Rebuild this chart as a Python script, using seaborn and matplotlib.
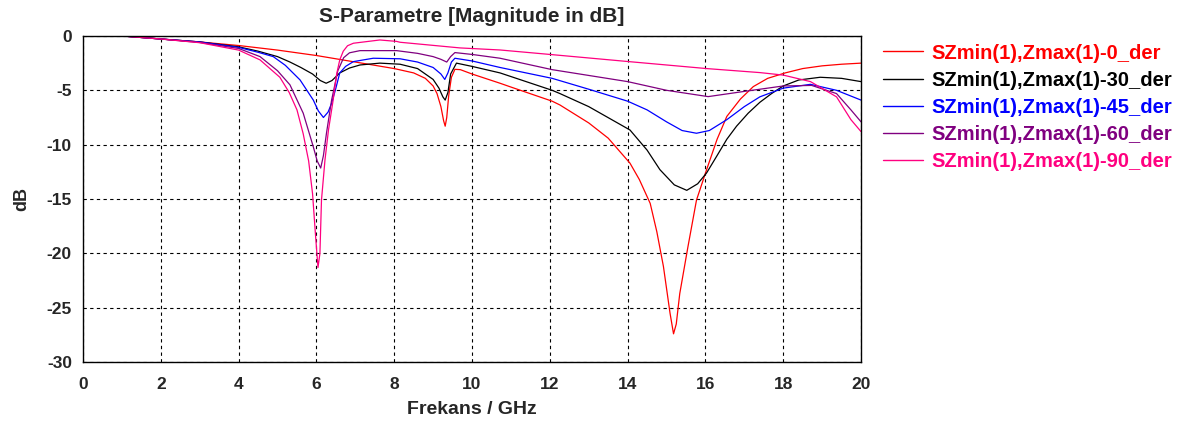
import numpy as np
import pandas as pd
import matplotlib
matplotlib.use("Agg")
import matplotlib.pyplot as plt
from matplotlib.lines import Line2D
import seaborn as sns

# ---- data ----
labels = ["SZmin(1),Zmax(1)-0_der", "SZmin(1),Zmax(1)-30_der", "SZmin(1),Zmax(1)-45_der",
          "SZmin(1),Zmax(1)-60_der", "SZmin(1),Zmax(1)-90_der"]
colors = ["#ff0000", "#000000", "#0000ff", "#800080", "#ff0080"]

f_0 = [1.0, 2, 3, 4, 5, 6, 7, 8, 8.5, 8.8, 9.0, 9.1, 9.2, 9.27, 9.31, 9.35, 9.4, 9.47, 9.56, 9.7,
       10, 10.72, 11, 12.06, 12.26, 13, 13.5, 14.06, 14.3, 14.58, 14.75, 14.92, 15.09, 15.18, 15.25,
       15.34, 15.55, 15.77, 16.03, 16.3, 16.55, 16.9, 17.23, 17.6, 18.05, 18.5, 19, 19.5, 20]
db_0 = [0.0, -0.28, -0.55, -0.88, -1.3, -1.8, -2.4, -3.0, -3.4, -3.9, -4.6, -5.3, -6.5, -7.8, -8.3,
        -7.5, -5.5, -3.8, -3.07, -3.1, -3.5, -4.35, -4.7, -6.0, -6.35, -8.0, -9.4, -11.7, -13.2, -15.4,
        -18.0, -21.2, -25.5, -27.4, -26.5, -23.7, -19.4, -15.1, -12.3, -9.5, -7.4, -5.8, -4.66, -3.9,
        -3.4, -3.0, -2.75, -2.6, -2.5]

f_30 = [1.0, 2, 3, 4, 4.5, 5, 5.32, 5.6, 5.9, 6.1, 6.25, 6.4, 6.6, 6.85, 7.12, 7.63, 8.15, 8.6, 9.0,
        9.15, 9.25, 9.31, 9.38, 9.45, 9.6, 10, 10.72, 12.06, 12.26, 13, 14.06, 14.5, 14.83, 15.2, 15.52,
        15.8, 16.03, 16.3, 16.55, 16.8, 17.1, 17.4, 17.7, 18.0, 18.4, 18.95, 19.5, 20]
db_30 = [0.0, -0.28, -0.55, -1.0, -1.4, -1.9, -2.4, -2.9, -3.5, -4.1, -4.35, -4.1, -3.4, -2.95, -2.67,
         -2.5, -2.6, -3.0, -4.0, -4.8, -5.6, -5.9, -5.2, -3.5, -2.5, -2.8, -3.4, -5.0, -5.3, -6.5, -8.65,
         -10.5, -12.3, -13.7, -14.2, -13.6, -12.6, -11.0, -9.5, -8.3, -7.1, -6.1, -5.3, -4.6, -4.05,
         -3.8, -3.9, -4.2]

f_45 = [1.0, 2, 3, 4, 4.5, 4.89, 5.2, 5.58, 5.92, 6.05, 6.18, 6.3, 6.39, 6.5, 6.6, 6.75, 6.95, 7.46,
        8.15, 8.6, 9.0, 9.2, 9.3, 9.38, 9.47, 9.56, 10, 10.72, 12.06, 13, 14.0, 14.5, 15.0, 15.4, 15.77,
        16.1, 16.55, 17.0, 17.4, 18.0, 18.7, 19.37, 20]
db_45 = [0.0, -0.28, -0.55, -1.05, -1.5, -1.9, -2.7, -4.05, -5.9, -6.9, -7.5, -7.0, -6.2, -4.8, -3.4,
         -2.8, -2.36, -2.05, -2.1, -2.4, -2.9, -3.5, -4.0, -3.4, -2.4, -2.05, -2.3, -2.9, -3.9, -4.9,
         -6.0, -6.8, -7.9, -8.7, -8.95, -8.7, -7.7, -6.5, -5.6, -4.8, -4.45, -5.0, -5.9]

f_60 = [1.0, 2, 3, 4, 4.55, 5.0, 5.32, 5.66, 5.92, 6.02, 6.11, 6.18, 6.26, 6.39, 6.55, 6.7, 6.85,
        7.12, 8.06, 8.6, 9.0, 9.2, 9.35, 9.45, 9.56, 10, 10.72, 12.06, 14.0, 15.0, 16.07, 17.0, 18.0,
        18.73, 19.37, 19.74, 20]
db_60 = [0.0, -0.28, -0.6, -1.15, -1.9, -3.2, -4.5, -7.1, -10.2, -11.5, -12.15, -11.0, -8.9, -5.9,
         -3.2, -2.0, -1.55, -1.35, -1.35, -1.6, -1.9, -2.15, -2.4, -1.9, -1.53, -1.7, -2.05, -3.1,
         -4.2, -5.0, -5.58, -5.1, -4.6, -4.55, -5.3, -6.8, -7.9]

f_90 = [1.0, 2, 3, 4, 4.55, 5.06, 5.3, 5.5, 5.66, 5.8, 5.9, 5.98, 6.04, 6.09, 6.13, 6.22, 6.31, 6.43,
        6.52, 6.6, 6.69, 6.8, 6.95, 7.29, 7.63, 8.06, 8.15, 9.69, 10.72, 12, 14, 16.03, 17.4, 18.0,
        18.7, 19.37, 19.74, 20]
db_90 = [0.0, -0.28, -0.62, -1.3, -2.2, -3.8, -5.2, -6.8, -9.0, -11.5, -14.5, -18.5, -21.3, -20.0,
         -15.1, -11.4, -8.65, -5.9, -3.5, -2.2, -1.4, -0.9, -0.67, -0.52, -0.37, -0.5, -0.58, -1.1,
         -1.29, -1.7, -2.35, -3.0, -3.37, -3.6, -4.2, -5.6, -7.7, -8.8]

x_ticks = [0, 2, 4, 6, 8, 10, 12, 14, 16, 18, 20]
y_ticks = [0, -5, -10, -15, -20, -25, -30]

# ---- build table ----
series = [(f_0, db_0), (f_30, db_30), (f_45, db_45), (f_60, db_60), (f_90, db_90)]
frames = []
for lab, (fx, dy) in zip(labels, series):
    frames.append(pd.DataFrame({"f": fx, "dB": dy, "series": lab}))
df = pd.concat(frames, ignore_index=True)

sns.set_theme(style="white")
plt.rcParams["font.family"] = ["Liberation Sans", "DejaVu Sans"]

fig = plt.figure(figsize=(11.86, 4.23), dpi=100)
ax = fig.add_axes([0.070, 0.144, 0.656, 0.771])

sns.lineplot(data=df, x="f", y="dB", hue="series", hue_order=labels,
             palette=dict(zip(labels, colors)), linewidth=0.9, ax=ax,
             estimator=None, sort=False, legend=False)

ax.set_xlim(0, 20)
ax.set_ylim(-30, 0)
ax.set_xticks(x_ticks)
ax.set_yticks(y_ticks)
ax.set_xticklabels([str(t) for t in x_ticks], fontweight="bold", fontsize=12.5)
ax.set_yticklabels([str(t) for t in y_ticks], fontweight="bold", fontsize=12.5)
ax.tick_params(axis="x", direction="out", length=4, width=1, color="#444444", pad=7)
ax.tick_params(axis="y", direction="out", length=4, width=1, color="#444444", pad=4)
ax.grid(True, color="black", linestyle=(0, (3, 3)), linewidth=0.8)
for s in ax.spines.values():
    s.set_color("black")
    s.set_linewidth(1.0)

ax.set_xlabel("Frekans / GHz", fontweight="bold", fontsize=14, labelpad=6)
ax.set_ylabel("dB", fontweight="bold", fontsize=13, labelpad=12)
ax.set_title("S-Parametre [Magnitude in dB]", fontweight="bold", fontsize=15, pad=10)

# legend
handles = [Line2D([0], [0], color=c, linewidth=1.0) for c in colors]
leg = fig.legend(handles, labels, loc="upper left", bbox_to_anchor=(0.729, 0.94),
                 frameon=False, handlelength=2.0, handletextpad=0.4, labelspacing=0.4,
                 prop={"weight": "bold", "size": 14.5, "family": ["Liberation Sans", "DejaVu Sans"]})
for txt, c in zip(leg.get_texts(), colors):
    txt.set_color(c)

fig.savefig("out.png", dpi=100)
